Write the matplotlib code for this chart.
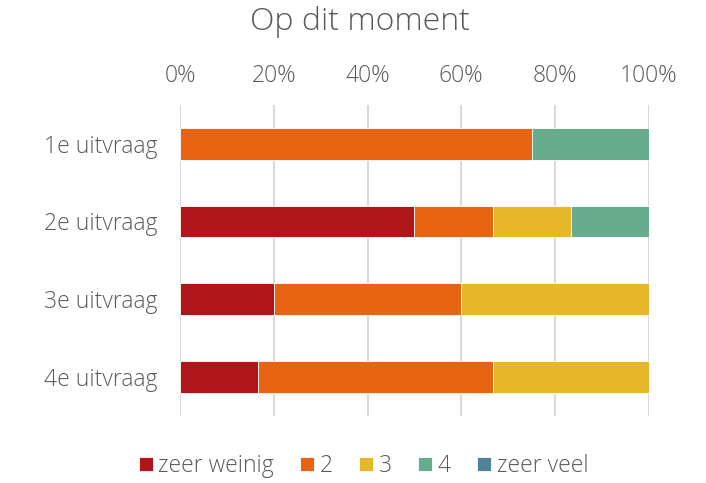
import numpy as np
import matplotlib
matplotlib.use("Agg")
from matplotlib import pyplot as plt

categories = ["1e uitvraag", "2e uitvraag", "3e uitvraag", "4e uitvraag"]
series = ["zeer weinig", "2", "3", "4", "zeer veel"]
values = {
    "zeer weinig": [0, 50.0, 20.0, 16.7],
    "2":           [75.0, 16.7, 40.0, 50.0],
    "3":           [0, 16.7, 40.0, 33.3],
    "4":           [25.0, 16.6, 0, 0],
    "zeer veel":   [0, 0, 0, 0],
}
xticks = [0, 20, 40, 60, 80, 100]
COL = ["#B0151A", "#E86312", "#E6B728", "#68AC8E", "#4F819B"]
GREY = "#595959"

plt.rcParams["font.family"] = ["Open Sans", "DejaVu Sans"]
plt.rcParams["font.weight"] = "light"
fig = plt.figure(figsize=(7.06, 4.83), dpi=100)
ax = fig.add_axes([0.255, 0.139, 0.664, 0.644])

y = np.arange(len(categories))
left = np.zeros(len(categories))
for s, c in zip(series, COL):
    v = np.array(values[s])
    ax.barh(y, v, 0.41, left=left, color=c, edgecolor="white", linewidth=0.6, label=s)
    left += v

ax.set_xlim(0, 100)
ax.set_ylim(len(categories) - 0.5, -0.5)
ax.xaxis.tick_top()
ax.set_xticks(xticks)
ax.set_xticklabels([f"{t}%" for t in xticks])
ax.set_yticks(y)
ax.set_yticklabels(categories)
ax.tick_params(length=0, colors=GREY, labelsize=16.5)
ax.tick_params(axis="x", pad=12)
ax.tick_params(axis="y", pad=16)
ax.grid(True, axis="x", color="#D9D9D9", lw=1.5)
ax.set_axisbelow(True)
for sp in ax.spines.values():
    sp.set_visible(False)

fig.text(0.51, 0.955, "Op dit moment", ha="center", va="center", fontsize=23, color=GREY)
fig.legend(loc="center", bbox_to_anchor=(0.515, 0.035), ncol=5, frameon=False,
           fontsize=16.5, labelcolor=GREY, handlelength=0.6, handleheight=0.6,
           handletextpad=0.25, columnspacing=1.15)

plt.savefig("out.png", dpi=100)
